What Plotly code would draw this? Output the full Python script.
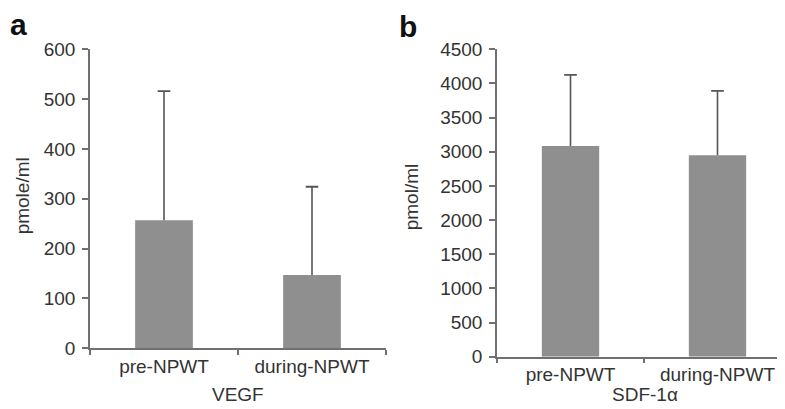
import plotly.graph_objects as go

categories = ["pre-NPWT", "during-NPWT"]
vegf_mean = [257, 147]
vegf_sd = [259, 177]
sdf_mean = [3083, 2950]
sdf_sd = [1042, 940]

W, H = 785, 409
bar_color = "#8f8f8f"
axis_color = "#707070"
err_color = "#555555"
font_family = "Liberation Sans, Arial, sans-serif"
text_color = "#333333"
FS = 19


def add_panel(fig, means, sds, xa, ya):
    fig.add_trace(go.Bar(
        x=categories, y=means, xaxis=xa, yaxis=ya,
        marker=dict(color=bar_color, line=dict(width=0)), width=0.39,
        error_y=dict(type="data", array=sds, symmetric=False, arrayminus=[0, 0],
                     color=err_color, thickness=1.6, width=0),
        showlegend=False, hoverinfo="skip",
    ))
    # caps on top of the error bars only
    fig.add_trace(go.Scatter(
        x=categories, y=[m + s for m, s in zip(means, sds)], xaxis=xa, yaxis=ya,
        mode="markers",
        marker=dict(symbol="line-ew", size=9, line=dict(color=err_color, width=1.8)),
        showlegend=False, hoverinfo="skip",
    ))


fig = go.Figure()
add_panel(fig, vegf_mean, vegf_sd, "x", "y")
add_panel(fig, sdf_mean, sdf_sd, "x2", "y2")


def px_x(a, b):
    return [a / W, b / W]


def px_y(top, bottom):
    return [1 - bottom / H, 1 - top / H]


tickfont = dict(size=FS, color=text_color, family=font_family)
xcommon = dict(showline=True, linecolor=axis_color, linewidth=1.5,
               ticks="outside", tickcolor=axis_color, ticklen=5, tickwidth=1.5,
               tickson="boundaries", showgrid=False, zeroline=False,
               tickfont=tickfont, range=[-0.5, 1.5])
ycommon = dict(showline=True, linecolor=axis_color, linewidth=1.5,
               ticks="outside", tickcolor=axis_color, ticklen=6, tickwidth=1.5,
               ticklabelstandoff=3,
               showgrid=False, zeroline=False, tickfont=tickfont)

titlefont = dict(size=FS, color=text_color, family=font_family)

annotations = [
    dict(text="<b>a</b>", x=0, y=1, xref="paper", yref="paper", xanchor="left",
         yanchor="top", showarrow=False, yshift=12, xshift=0,
         font=dict(size=30, color="#111111", family=font_family)),
    dict(text="<b>b</b>", x=391 / W, y=1, xref="paper", yref="paper", xanchor="left",
         yanchor="top", showarrow=False, yshift=10, xshift=-2,
         font=dict(size=30, color="#111111", family=font_family)),
    dict(text="VEGF", x=230 / W, y=1 - 397 / H, xref="paper", yref="paper",
         xanchor="center", yanchor="middle", showarrow=False, font=titlefont),
    dict(text="SDF-1α", x=637 / W, y=1 - 397 / H, xref="paper", yref="paper",
         xanchor="center", yanchor="middle", showarrow=False, font=titlefont),
    dict(text="pmole/ml", x=14 / W, y=1 - 188 / H, xref="paper", yref="paper",
         xanchor="center", yanchor="middle", showarrow=False, textangle=-90, font=titlefont),
    dict(text="pmol/ml", x=403 / W, y=1 - 189 / H, xref="paper", yref="paper",
         xanchor="center", yanchor="middle", showarrow=False, textangle=-90, font=titlefont),
]

fig.update_layout(
    width=W, height=H,
    margin=dict(l=0, r=0, t=0, b=0),
    paper_bgcolor="white", plot_bgcolor="white",
    font=dict(family=font_family, color=text_color),
    xaxis=dict(domain=px_x(82, 378), anchor="y", **xcommon),
    yaxis=dict(domain=px_y(33, 348), anchor="x", range=[0, 600], dtick=100, **ycommon),
    xaxis2=dict(domain=px_x(489, 783), anchor="y2", **xcommon),
    yaxis2=dict(domain=px_y(33, 357), anchor="x2", range=[0, 4500], dtick=500, **ycommon),
    annotations=annotations,
)

fig.write_html("out.html")
